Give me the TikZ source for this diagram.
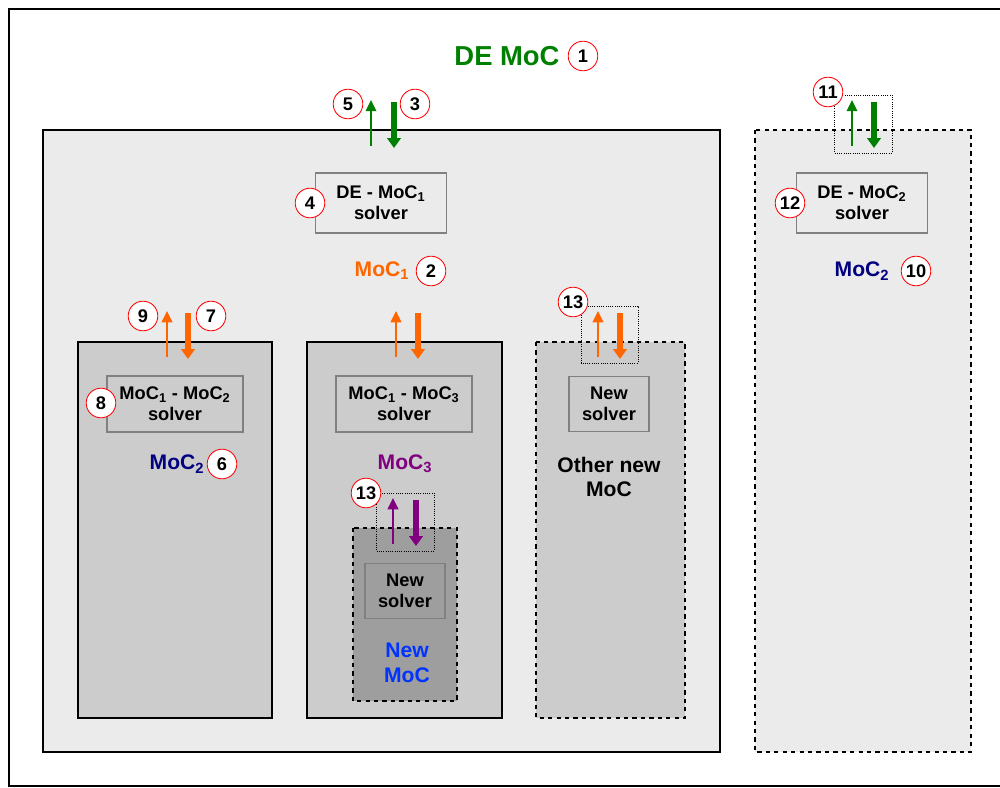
\documentclass[tikz,border=0pt]{standalone}
\usepackage{fontspec}
\setmainfont{Liberation Sans}
\usetikzlibrary{arrows.meta,positioning}
\definecolor{DeGreen}{RGB}{0,128,0}
\definecolor{MocOrange}{RGB}{255,102,0}
\definecolor{MocNavy}{RGB}{0,0,128}
\definecolor{MocPurple}{RGB}{128,0,128}
\definecolor{MocBlue}{RGB}{0,51,255}
\definecolor{PaneLight}{RGB}{235,235,235}
\definecolor{PaneMid}{RGB}{204,204,204}
\definecolor{PaneDark}{RGB}{158,158,158}
\tikzset{
  pane/.style={draw=black,line width=0.8pt,fill=#1},
  newpane/.style={draw=black,dashed,line width=0.8pt,fill=#1},
  portbox/.style={draw=black,densely dotted,line width=0.6pt},
  solverbox/.style={draw=black!50,line width=0.9pt,align=center,inner sep=0pt,
    font=\bfseries\fontsize{13}{15}\selectfont},
  mocname/.style={font=\bfseries\fontsize{15}{17.5}\selectfont,align=center},
  tag/.style={circle,draw=red,fill=white,line width=0.6pt,inner sep=0pt,
    minimum size=0.74cm,font=\bfseries\fontsize{13}{13}\selectfont},
  upflow/.style={-{Triangle[length=8pt,width=7.5pt]},line width=1.3pt},
  downflow/.style={-{Triangle[length=7pt,width=9.5pt]},line width=3.6pt}
}
\begin{document}
\begin{tikzpicture}[x=0.025cm,y=-0.025cm]
  \useasboundingbox (0,0) rectangle (1000,788);
  \draw[line width=0.8pt] (9,9) rectangle (1020,786);
  % DE MoC and the MoC2 pane beside it
  \draw[pane=PaneLight] (43,130) rectangle (720,752);
  \draw[newpane=PaneLight] (755,130) rectangle (971,752);
  \node[font=\bfseries\fontsize{19.5}{22}\selectfont,DeGreen] (democ) at (507,56) {DE MoC};
  \node[tag] (t1) at (583,56) {1};
  % inner panes
  \draw[pane=PaneMid] (78,342) rectangle (272,718);
  \draw[pane=PaneMid] (307,342) rectangle (502,718);
  \draw[newpane=PaneMid] (536,342) rectangle (685,718);
  \draw[newpane=PaneDark] (353,528) rectangle (457,701);
  % solvers
  \node[solverbox,minimum width=3.27cm,minimum height=1.5cm] (s4) at (381,203) {DE - MoC\textsubscript{1}\\solver};
  \node[solverbox,minimum width=3.27cm,minimum height=1.5cm] (s12) at (862,203) {DE - MoC\textsubscript{2}\\solver};
  \node[solverbox,minimum width=3.4cm,minimum height=1.4cm] (s8) at (175,404) {MoC\textsubscript{1} - MoC\textsubscript{2}\\solver};
  \node[solverbox,minimum width=3.4cm,minimum height=1.4cm] (s13) at (404,404) {MoC\textsubscript{1} - MoC\textsubscript{3}\\solver};
  \node[solverbox,minimum width=2cm,minimum height=1.38cm] (snew) at (609,404) {New\\solver};
  \node[solverbox,minimum width=2cm,minimum height=1.38cm] (snewer) at (405,591) {New\\solver};
  % MoC names
  \node[mocname,MocOrange] (moc1) at (382,271) {MoC\textsubscript{1}};
  \node[mocname,MocNavy] (moc2) at (177,464) {MoC\textsubscript{2}};
  \node[mocname,MocPurple] (moc3) at (405,464) {MoC\textsubscript{3}};
  \node[mocname,MocNavy] (moc2r) at (862,271) {MoC\textsubscript{2}};
  \node[mocname] (othermoc) at (609,477) {Other new\\MoC};
  \node[mocname,MocBlue] (newmoc) at (407,663) {New\\MoC};
  % ports
  \draw[portbox] (834,95) rectangle (892,153);
  \draw[portbox] (581,306) rectangle (638,363);
  \draw[portbox] (376,493) rectangle (434,551);
  \foreach \n/\x/\yt/\yb in {a/371/100/146, b/852/100/146, c/167/311/357,
      d/396/311/357, e/598/311/357, f/393/498/544}
    \coordinate (up\n top) at (\x,\yt) coordinate (up\n bot) at (\x,\yb);
  \foreach \n/\x/\yt/\yb in {a/394/102/148, b/874/102/148, c/188/313/359,
      d/418/313/359, e/620/313/359, f/416/500/546}
    \coordinate (dn\n top) at (\x,\yt) coordinate (dn\n bot) at (\x,\yb);
  \draw[upflow,DeGreen] (upabot) -- (upatop);
  \draw[downflow,DeGreen] (dnatop) -- (dnabot);
  \draw[upflow,DeGreen] (upbbot) -- (upbtop);
  \draw[downflow,DeGreen] (dnbtop) -- (dnbbot);
  \draw[upflow,MocOrange] (upcbot) -- (upctop);
  \draw[downflow,MocOrange] (dnctop) -- (dncbot);
  \draw[upflow,MocOrange] (updbot) -- (updtop);
  \draw[downflow,MocOrange] (dndtop) -- (dndbot);
  \draw[upflow,MocOrange] (upebot) -- (upetop);
  \draw[downflow,MocOrange] (dnetop) -- (dnebot);
  \draw[upflow,MocPurple] (upfbot) -- (upftop);
  \draw[downflow,MocPurple] (dnftop) -- (dnfbot);
  % numbered tags
  \node[tag] (t2) at (431,271) {2};
  \node[tag] (t3) at (415,104) {3};
  \node[tag] (t4) at (310,203) {4};
  \node[tag] (t5) at (348,104) {5};
  \node[tag] (t6) at (222,464) {6};
  \node[tag] (t7) at (211,316) {7};
  \node[tag] (t8) at (101,403) {8};
  \node[tag] (t9) at (143,316) {9};
  \node[tag] (t10) at (916,271) {10};
  \node[tag] (t11) at (828,92) {11};
  \node[tag] (t12) at (790,203) {12};
  \node[tag] (t13a) at (573,302) {13};
  \node[tag] (t13b) at (366,493) {13};
\end{tikzpicture}
\end{document}
